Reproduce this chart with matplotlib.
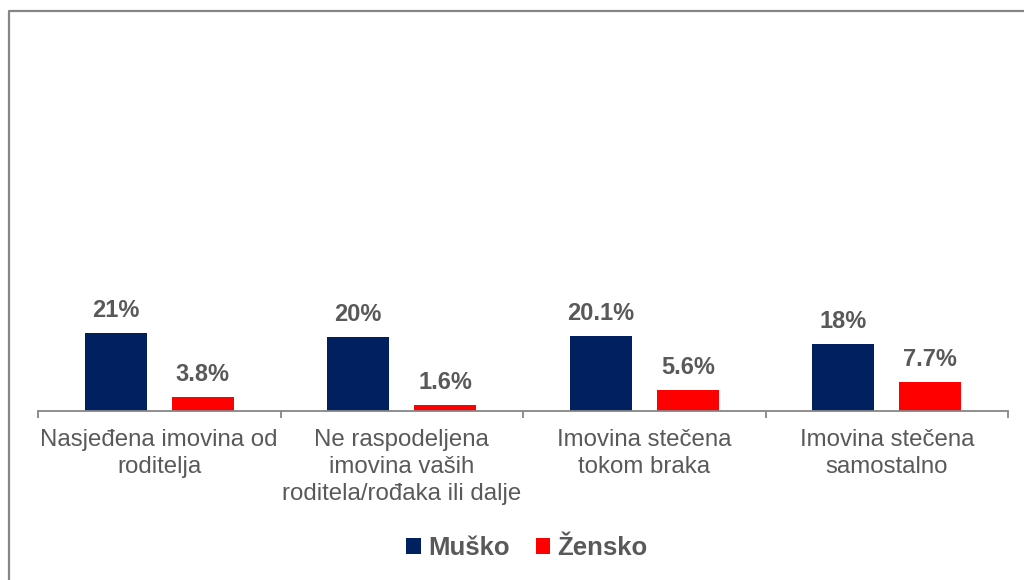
import matplotlib
matplotlib.use("Agg")
import matplotlib.pyplot as plt
import numpy as np
from matplotlib.lines import Line2D
from matplotlib.patches import Patch

categories = ["Nasjeđena imovina od\nroditelja",
              "Ne raspodeljena\nimovina vaših\nroditela/rođaka ili dalje",
              "Imovina stečena\ntokom braka",
              "Imovina stečena\nsamostalno"]
musko = [21, 20, 20.1, 18]
zensko = [3.8, 1.6, 5.6, 7.7]
musko_labels = ["21%", "20%", "20.1%", "18%"]
zensko_labels = ["3.8%", "1.6%", "5.6%", "7.7%"]
series_names = ["Muško", "Žensko"]

navy = "#002060"
red = "#FF0000"
gray = "#595959"
axis_gray = "#868686"

plt.rcParams['font.family'] = ['Liberation Sans', 'DejaVu Sans']

fig = plt.figure(figsize=(10.24, 5.8), dpi=100)
ax = fig.add_axes([38/1024, (580-411)/580, (1008-38)/1024, (411-40)/580])

x = np.arange(len(categories))
w = 0.256
off = 0.18
b1 = ax.bar(x - off, musko, w, color=navy)
b2 = ax.bar(x + off, zensko, w, color=red)

for rect, lab in zip(b1, musko_labels):
    ax.annotate(lab, (rect.get_x() + rect.get_width()/2, rect.get_height()),
                xytext=(0, 8), textcoords="offset points", ha="center", va="bottom",
                fontsize=17, fontweight="bold", color=gray)
for rect, lab in zip(b2, zensko_labels):
    ax.annotate(lab, (rect.get_x() + rect.get_width()/2, rect.get_height()),
                xytext=(0, 8), textcoords="offset points", ha="center", va="bottom",
                fontsize=17, fontweight="bold", color=gray)

ax.set_xlim(-0.5, len(categories) - 0.5)
ax.set_ylim(0, 100)
for s in ["top", "right", "left"]:
    ax.spines[s].set_visible(False)
ax.spines["bottom"].set_color(axis_gray)
ax.spines["bottom"].set_linewidth(1.3)
ax.set_yticks([])
ax.set_xticks(np.arange(-0.5, len(categories), 1.0))
ax.set_xticklabels([])
ax.tick_params(axis="x", length=5, color=axis_gray, width=1.3)
for i, c in enumerate(categories):
    ax.annotate(c, (i, 0), xytext=(0, -13), textcoords="offset points",
                ha="center", va="top", fontsize=17.3, color=gray, linespacing=1.3)

handles = [Patch(facecolor=navy), Patch(facecolor=red)]
leg = fig.legend(handles, series_names, loc="center", bbox_to_anchor=(527/1024, 1 - 548/580),
                 ncol=2, frameon=False, prop={"weight": "bold", "size": 18.5},
                 handlelength=0.55, handleheight=0.55, handletextpad=0.3, columnspacing=1.0)
for t in leg.get_texts():
    t.set_color(gray)

fig.add_artist(Line2D([8.5/1024, 8.5/1024, 1.0], [0, 1 - 10.5/580, 1 - 10.5/580],
                      transform=fig.transFigure, color=axis_gray, linewidth=1.6))

fig.savefig("out.png", dpi=100)
